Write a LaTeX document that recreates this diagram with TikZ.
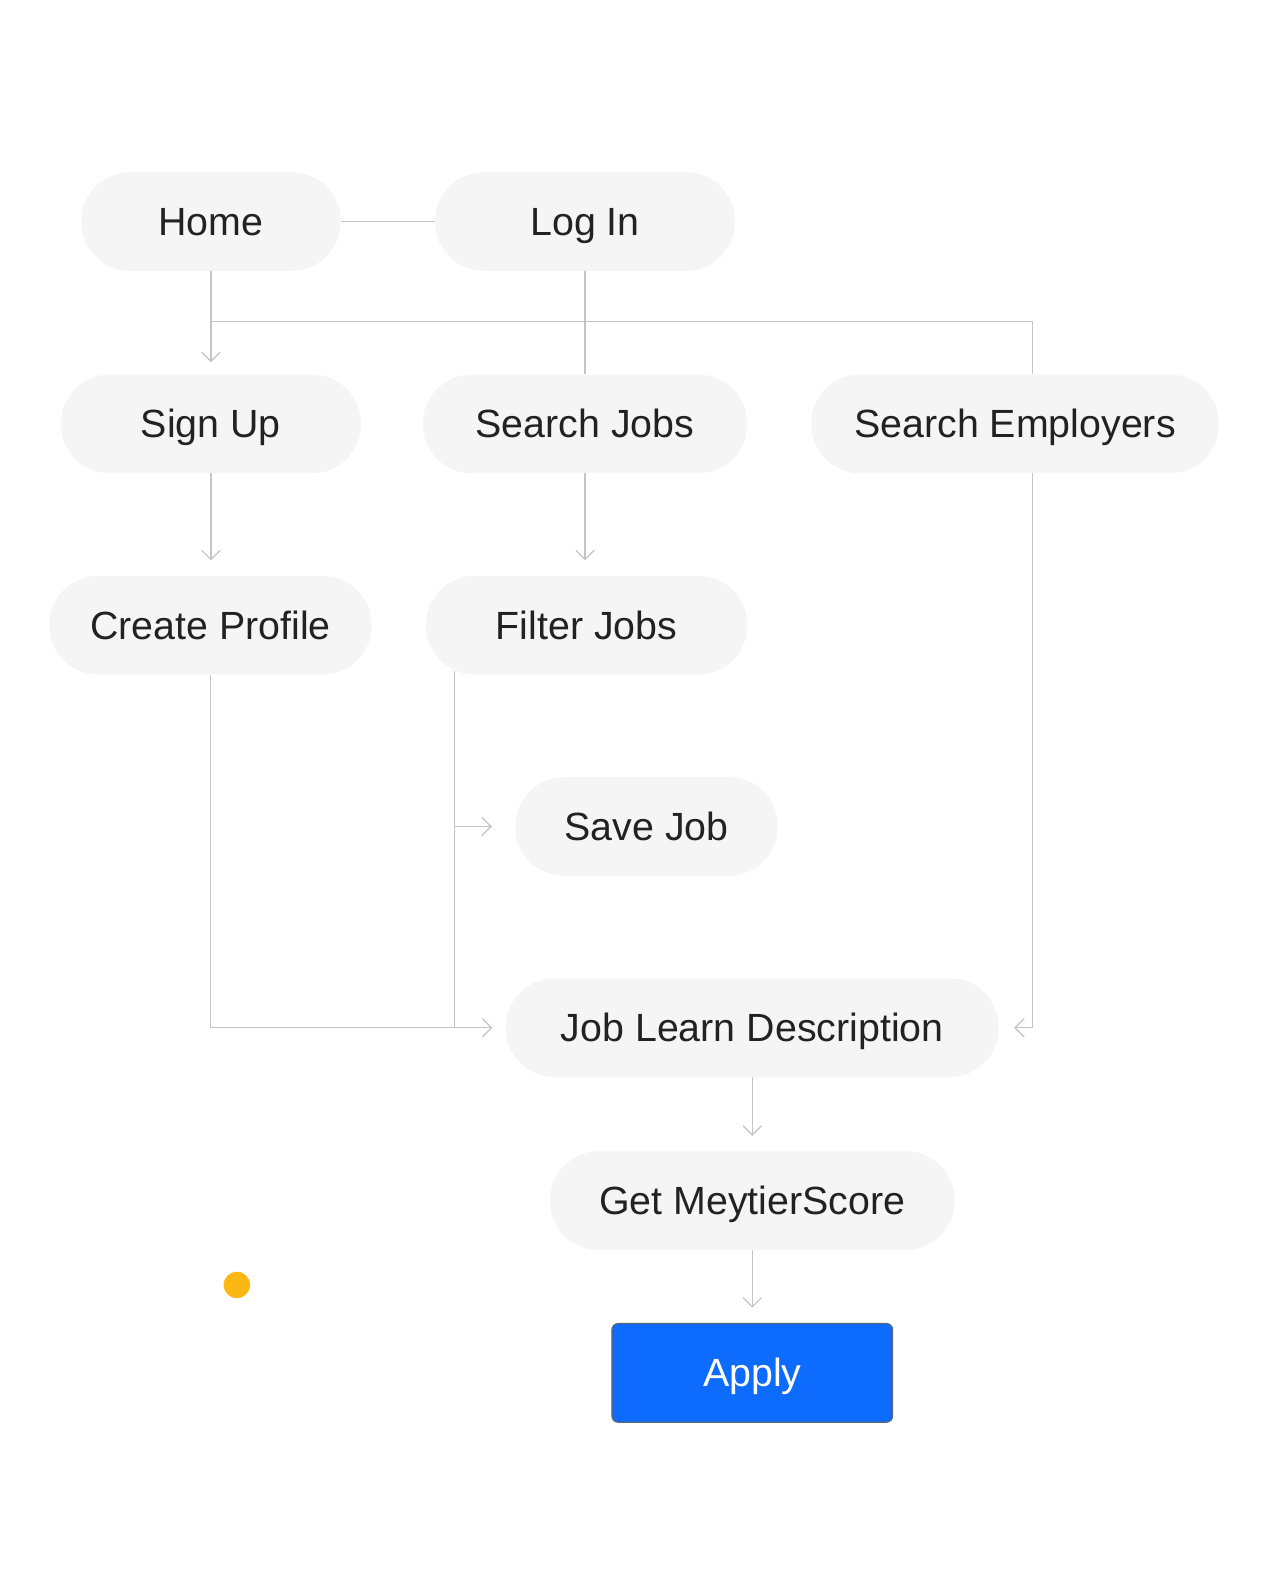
\documentclass[tikz,border=0pt]{standalone}
\usepackage{fontspec}
\setmainfont{Liberation Sans}
\usetikzlibrary{arrows.meta,calc}
\definecolor{pillgray}{HTML}{F5F5F5}
\definecolor{linegray}{HTML}{C4C4C4}
\definecolor{textdark}{HTML}{222222}
\definecolor{applyblue}{HTML}{0D6BFD}
\definecolor{applyborder}{HTML}{5A6675}
\definecolor{dotyellow}{HTML}{FBB714}
\begin{document}
\begin{tikzpicture}[x=1pt,y=-1pt,
  pill/.style={fill=pillgray, rounded corners=48pt, minimum height=97pt,
    inner sep=0pt, text=textdark, font=\fontsize{38.7}{42}\selectfont,
    text height=27.7pt, text depth=0pt},
  applybox/.style={fill=applyblue, draw=applyborder, line width=1.2pt,
    rounded corners=6pt, minimum height=97pt, inner sep=0pt, text=white,
    font=\fontsize{38.7}{42}\selectfont, text height=27.7pt, text depth=0pt},
  conn/.style={draw=linegray, line width=1.2pt},
  arr/.style={conn, -{Straight Barb[length=9pt,width=18pt]}}
]
\useasboundingbox[fill=white] (0,0) rectangle (1248,1570);

\node[pill, minimum width=255pt] (home) at (207.5,218) {Home};
\node[pill, minimum width=295pt] (login) at (575.5,218) {Log In};
\node[pill, minimum width=295pt] (signup) at (207.5,417) {Sign Up};
\node[pill, minimum width=319pt] (searchjobs) at (575.5,417) {Search Jobs};
\node[pill, minimum width=401pt] (searchemp) at (998.5,417) {Search Employers};
\node[pill, minimum width=317pt] (createprof) at (207,615) {Create Profile};
\node[pill, minimum width=316pt] (filterjobs) at (577,615) {Filter Jobs};
\node[pill, minimum width=258pt] (savejob) at (636,813) {Save Job};
\node[pill, minimum width=485pt] (jobdesc) at (740,1011) {Job Learn Description};
\node[pill, minimum width=398pt] (getscore) at (740,1181) {Get MeytierScore};
\node[applybox, minimum width=276pt] (apply) at (740,1350.5) {Apply};
\fill[dotyellow] (233,1264) circle (13pt);

\coordinate (hsplit) at (207.5,316);
\coordinate (empx) at (1016,316);
\coordinate (fjl) at (447,660);

\draw[conn] (home.east) -- (login.west);
\draw[arr, shorten >=12pt] (home.south) -- (signup.north);
\draw[conn] (hsplit) -| (searchemp.north -| empx);
\draw[conn] (login.south) -- (searchjobs.north);
\draw[arr, shorten >=15pt] (signup.south) -- (signup.south |- createprof.north);
\draw[arr, shorten >=15pt] (searchjobs.south) -- (searchjobs.south |- filterjobs.north);
\draw[arr, shorten >=13pt] (createprof.south) |- (jobdesc.west);
\draw[conn] (fjl) -- (fjl |- jobdesc.west);
\draw[arr, shorten >=23pt] (fjl |- savejob.west) -- (savejob.west);
\draw[arr, shorten >=15pt] (searchemp.south -| empx) |- (jobdesc.east);
\draw[arr, shorten >=15pt] (jobdesc.south) -- (getscore.north);
\draw[arr, shorten >=15pt] (getscore.south) -- (apply.north);
\end{tikzpicture}
\end{document}
